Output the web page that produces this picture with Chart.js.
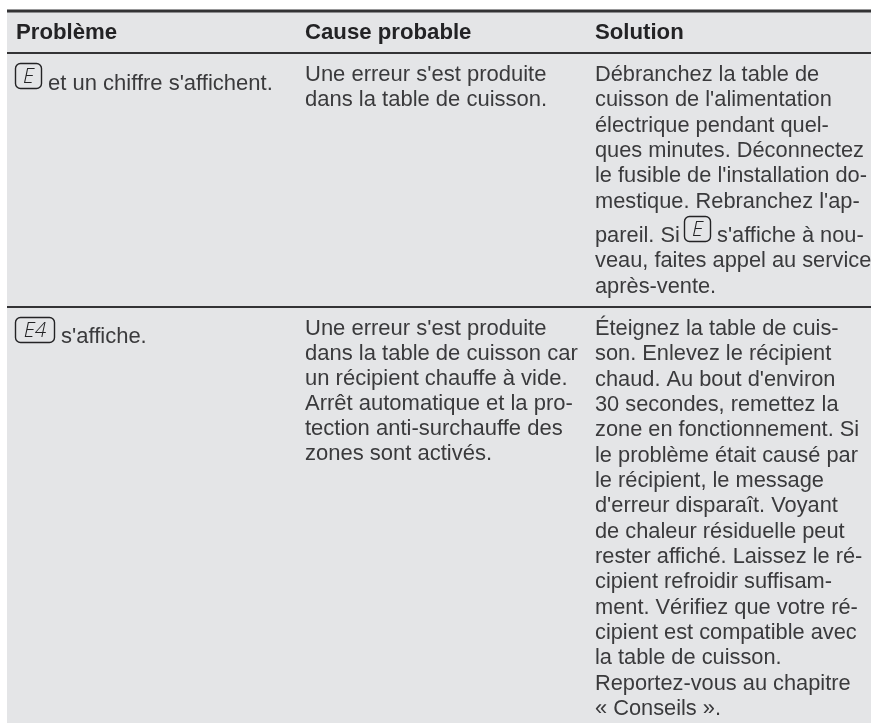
<!DOCTYPE html>
<html lang="fr"><head><meta charset="utf-8">
<style>html,body{margin:0;padding:0;background:#fff}canvas{display:block}</style>
<script src="https://cdn.jsdelivr.net/npm/chart.js@4"></script>
</head><body><canvas id="c" width="871" height="723"></canvas>
<script>
const headers = ["Problème", "Cause probable", "Solution"];
const row1Problem = ["et un chiffre s'affichent."];
const row1Cause = ["Une erreur s'est produite", "dans la table de cuisson."];
const row1Solution = ["Débranchez la table de", "cuisson de l'alimentation", "électrique pendant quel-", "ques minutes. Déconnectez", "le fusible de l'installation do-", "mestique. Rebranchez l'ap-"];
const row1SolutionInline = ["pareil. Si", "s'affiche à nou-"];
const row1SolutionEnd = ["veau, faites appel au service", "après-vente."];
const row2Problem = ["s'affiche."];
const row2Cause = ["Une erreur s'est produite", "dans la table de cuisson car", "un récipient chauffe à vide.", "Arrêt automatique et la pro-", "tection anti-surchauffe des", "zones sont activés."];
const row2Solution = ["Éteignez la table de cuis-", "son. Enlevez le récipient", "chaud. Au bout d'environ", "30 secondes, remettez la", "zone en fonctionnement. Si", "le problème était causé par", "le récipient, le message", "d'erreur disparaît. Voyant", "de chaleur résiduelle peut", "rester affiché. Laissez le ré-", "cipient refroidir suffisam-", "ment. Vérifiez que votre ré-", "cipient est compatible avec", "la table de cuisson.", "Reportez-vous au chapitre", "« Conseils »."];
const icons = ["E", "E4"];

const INK = "#3a3a3c", DARK = "#232325", RULE = "#333335", BG = "#e4e5e7";
const BODY = "22px 'Liberation Sans'", BODY3 = "21.8px 'Liberation Sans'", HEAD = "bold 22.2px 'Liberation Sans'", GLYPH = "italic 300 21px 'Open Sans'";
const COL = [16, 305, 595], LH = 25.33, LH2 = 25, R1 = 81, R2 = 335;

const tablePlugin = {
  id: "table",
  beforeDatasetsDraw(ch) {
    const {ctx, scales: {x, y}} = ch;
    ctx.fillStyle = BG;
    ctx.fillRect(x.getPixelForValue(7), y.getPixelForValue(11), x.getPixelForValue(871) - x.getPixelForValue(7), y.getPixelForValue(723) - y.getPixelForValue(11));
  },
  afterDatasetsDraw(ch) {
    const {ctx, scales: {x, y}} = ch;
    ctx.save();
    ctx.textBaseline = "alphabetic";
    const put = (s, px, py, f, c) => { ctx.font = f || BODY; ctx.fillStyle = c || INK; ctx.fillText(s, x.getPixelForValue(px), y.getPixelForValue(py)); };
    const block = (lines, px, py, lh, f) => lines.forEach((s, i) => put(s, px, py + i * lh, f));
    const icon = (label, px, py, w) => {
      ctx.strokeStyle = DARK; ctx.lineWidth = 1.4;
      ctx.beginPath();
      ctx.roundRect(x.getPixelForValue(px) + .5, y.getPixelForValue(py) + .5, w, 25, 5);
      ctx.stroke();
      ctx.textAlign = "center";
      put(label, px + w / 2 + .5, py + 20, GLYPH, DARK);
      ctx.textAlign = "left";
    };
    headers.forEach((h, i) => put(h, COL[i], 39, HEAD, DARK));
    icon(icons[0], 15, 63, 26);
    put(row1Problem[0], 48, 90);
    block(row1Cause, COL[1], R1, LH2);
    block(row1Solution, COL[2], R1, LH, BODY3);
    put(row1SolutionInline[0], COL[2], 242, BODY3);
    icon(icons[0], 684, 216, 26);
    put(row1SolutionInline[1], 717, 242, BODY3);
    block(row1SolutionEnd, COL[2], 267, 26, BODY3);
    icon(icons[1], 15, 317, 39);
    put(row2Problem[0], 61, 343);
    block(row2Cause, COL[1], R2, LH2);
    block(row2Solution, COL[2], R2, LH, BODY3);
    ctx.restore();
  }
};
const ruleLine = (y, w) => ({type: "line", data: [{x: 7, y}, {x: 871, y}], borderColor: RULE, borderWidth: w, pointRadius: 0, fill: false});
new Chart(document.getElementById("c"), {
  type: "line",
  data: {datasets: [ruleLine(11, 3), ruleLine(53, 2), ruleLine(307, 2)]},
  options: {
    responsive: false, animation: false, events: [],
    layout: {padding: 0},
    plugins: {legend: {display: false}, tooltip: {enabled: false}, title: {display: false}},
    scales: {
      x: {type: "linear", min: 0, max: 871, display: false},
      y: {type: "linear", min: 0, max: 723, reverse: true, display: false}
    }
  },
  plugins: [tablePlugin]
});
</script></body></html>
